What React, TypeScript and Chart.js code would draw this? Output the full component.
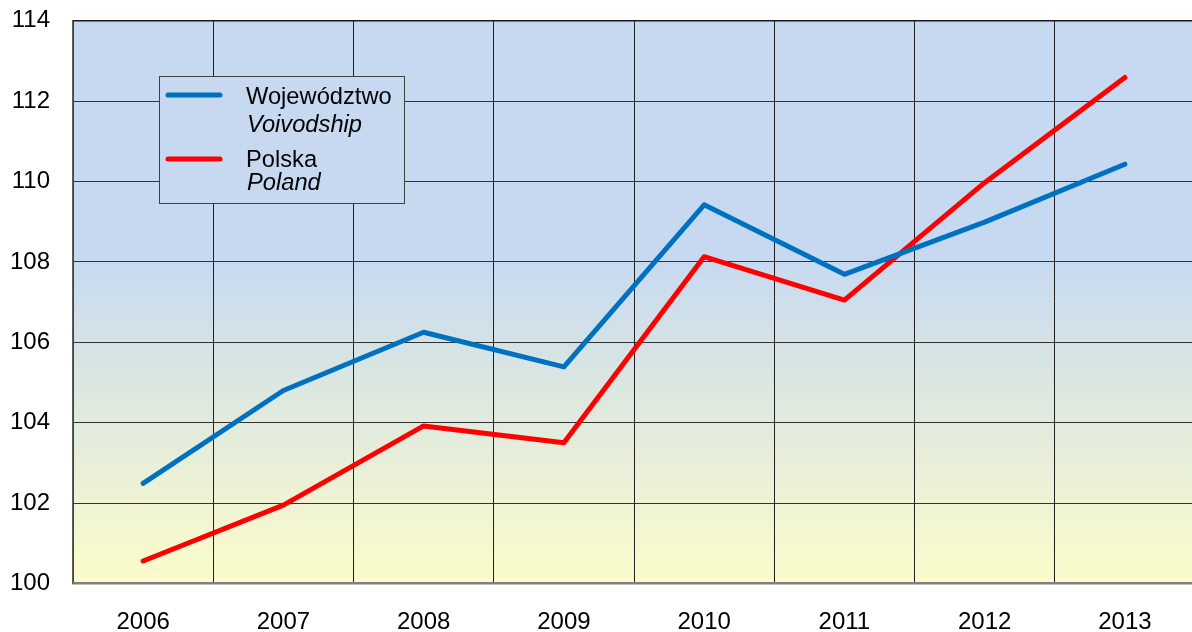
import React, { useEffect, useRef } from "react";
import { Chart, registerables } from "chart.js";

Chart.register(...registerables);

const categories = ["2006", "2007", "2008", "2009", "2010", "2011", "2012", "2013"];
const voivodshipValues = [102.49, 104.8, 106.25, 105.39, 109.42, 107.69, 108.99, 110.43];
const polandValues = [100.56, 101.95, 103.92, 103.5, 108.13, 107.05, 109.97, 112.59];
const seriesLabels = ["Województwo", "Polska"];
const seriesSubLabels = ["Voivodship", "Poland"];
const seriesColors = ["#0070C0", "#FF0000"];
const yMin = 100;
const yMax = 114;
const yStep = 2;

const FONT = "'Liberation Sans', Arial, sans-serif";

const bgPlugin = {
  id: "bgGradient",
  beforeDraw(chart: any) {
    const { ctx, chartArea } = chart;
    if (!chartArea) return;
    const { left, top, right, bottom } = chartArea;
    const g = ctx.createLinearGradient(0, top, 0, bottom);
    g.addColorStop(0, "#C6D9F0");
    g.addColorStop(0.42, "#C6D9F0");
    g.addColorStop(1, "#FCFCCB");
    ctx.save();
    ctx.fillStyle = g;
    ctx.fillRect(left, top, right - left, bottom - top);
    ctx.restore();
  },
  afterDraw(chart: any) {
    const { ctx, chartArea } = chart;
    const { left, top, right } = chartArea;
    ctx.save();
    ctx.strokeStyle = "#1a1a1a";
    ctx.lineWidth = 1.5;
    ctx.beginPath();
    ctx.moveTo(left, top);
    ctx.lineTo(right, top);
    ctx.stroke();

    ctx.fillStyle = "#C6D9F0";
    ctx.fillRect(159.5, 76.5, 245, 127);
    ctx.strokeStyle = "#404040";
    ctx.lineWidth = 1;
    ctx.strokeRect(159.5, 76.5, 245, 127);

    const rows = [
      { lineY: 95, mainY: 104, subY: 131.5 },
      { lineY: 159, mainY: 166.5, subY: 190 },
    ];
    rows.forEach((r, i) => {
      ctx.strokeStyle = seriesColors[i];
      ctx.lineWidth = 5;
      ctx.lineCap = "round";
      ctx.beginPath();
      ctx.moveTo(168, r.lineY);
      ctx.lineTo(220, r.lineY);
      ctx.stroke();
      ctx.fillStyle = "#000";
      ctx.textAlign = "left";
      ctx.textBaseline = "alphabetic";
      ctx.font = `23.7px ${FONT}`;
      ctx.fillText(seriesLabels[i], 246, r.mainY);
      ctx.font = `italic 23.7px ${FONT}`;
      ctx.fillText(seriesSubLabels[i], 247, r.subY);
    });
    ctx.restore();
  },
};

export default function App() {
  const ref = useRef<HTMLCanvasElement | null>(null);

  useEffect(() => {
    document.body.style.margin = "0";
    const canvas = ref.current;
    if (!canvas) return;
    const chart = new Chart(canvas, {
      type: "line",
      data: {
        labels: categories,
        datasets: [
          {
            label: seriesLabels[0],
            data: voivodshipValues,
            borderColor: seriesColors[0],
            backgroundColor: seriesColors[0],
            borderWidth: 5,
            pointRadius: 0,
            tension: 0,
            borderCapStyle: "round",
            borderJoinStyle: "round",
          },
          {
            label: seriesLabels[1],
            data: polandValues,
            borderColor: seriesColors[1],
            backgroundColor: seriesColors[1],
            borderWidth: 5,
            pointRadius: 0,
            tension: 0,
            borderCapStyle: "round",
            borderJoinStyle: "round",
          },
        ],
      },
      options: {
        responsive: false,
        animation: false,
        layout: { padding: { top: 20.7, left: 0, right: 0, bottom: 0 } },
        plugins: {
          legend: { display: false },
          tooltip: { enabled: false },
        },
        scales: {
          x: {
            type: "category",
            offset: true,
            grid: {
              offset: true,
              color: "#202020",
              lineWidth: 1,
              drawTicks: false,
            },
            border: { display: true, color: "#808080", width: 2.5 },
            ticks: {
              color: "#000",
              font: { family: FONT, size: 24 },
              padding: 24,
              maxRotation: 0,
              autoSkip: false,
            },
            afterFit(scale: any) {
              scale.height = 48.5;
              scale.paddingLeft = 0;
              scale.paddingRight = 0;
            },
          },
          y: {
            min: yMin,
            max: yMax,
            grid: {
              color: "#333333",
              lineWidth: 1,
              drawTicks: false,
            },
            border: { display: true, color: "#606060", width: 1.5 },
            ticks: {
              stepSize: yStep,
              color: "#000",
              font: { family: FONT, size: 24 },
              padding: 23,
            },
            afterFit(scale: any) {
              scale.width = 73;
              scale.paddingTop = 0;
              scale.paddingBottom = 0;
            },
          },
        },
      },
      plugins: [bgPlugin],
    });
    return () => chart.destroy();
  }, []);

  return (
    <div style={{ width: 1192, height: 632, overflow: "hidden", position: "relative" }}>
      <canvas ref={ref} width={1195} height={632} style={{ display: "block" }} />
    </div>
  );
}
